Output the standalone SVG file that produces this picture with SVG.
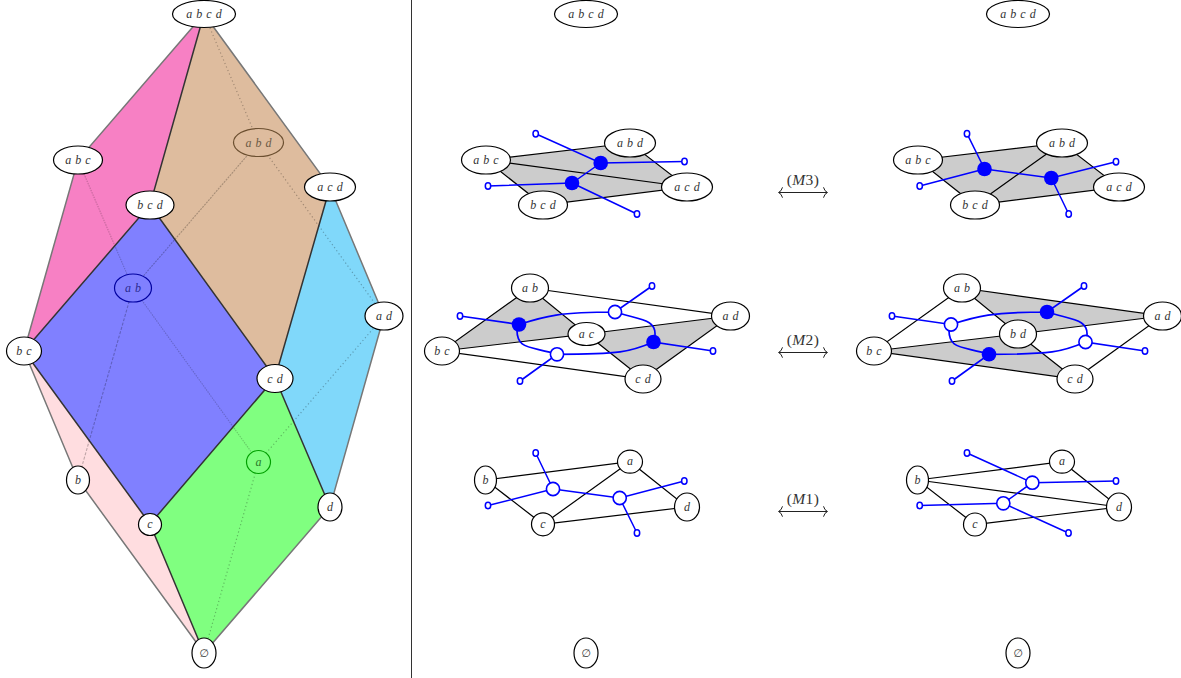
<svg xmlns="http://www.w3.org/2000/svg" width="1181" height="678" viewBox="0 0 1181 678">
<style>
text{font-family:"Liberation Serif","DejaVu Serif",serif;font-style:italic;font-size:12px;word-spacing:1px;text-anchor:middle;fill:#333}
.em{font-family:"DejaVu Sans","Liberation Serif",sans-serif;font-style:normal;font-size:11px}
.n{fill:#fff;stroke:#000;stroke-width:1.2}
.e{stroke:#000;stroke-width:1.2;fill:none}
.o{stroke:#777;stroke-width:1.5;fill:none}
.i{stroke:#333;stroke-width:1.5;fill:none}
.dot{stroke:#000;stroke-opacity:.28;stroke-width:1.2;stroke-dasharray:1.2 2.6;fill:none}
.das{stroke:#000;stroke-opacity:.25;stroke-width:1.1;stroke-dasharray:3 1.5;fill:none}
.fin{stroke:#000;stroke-opacity:.2;stroke-width:1.1;stroke-dasharray:1.5 1;fill:none}
.g{fill:#ccc;stroke:none}
.b{stroke:#00f;stroke-width:1.5;fill:none}
.b2{stroke:#00f;stroke-width:1.7;fill:none}
.t{fill:#fff;stroke:#00f;stroke-width:1.5}
.vf{fill:#00f;stroke:none}
.vo{fill:#fff;stroke:#00f;stroke-width:1.6}
.ar{stroke:#222;stroke-width:1;fill:none}
.lab{font-size:15.500px;font-style:normal;word-spacing:0;letter-spacing:.4px}
.lab tspan{font-style:italic}
</style>
<defs>
<marker id="h" viewBox="-6 -6 12 12" markerWidth="12" markerHeight="12" markerUnits="userSpaceOnUse" refX="4" refY="0" orient="auto-start-reverse"><path d="M0.500-5.200Q1.500-1.200 4.500 0Q1.500 1.200 0.500 5.200" fill="none" stroke="#222" stroke-width="1"/></marker>
</defs>

<line x1="411.500" y1="0" x2="411.500" y2="678" stroke="#333" stroke-width="1"/>

<g id="faces">
<polygon points="204,14 78,160 24,351 150,205" fill="#f780c4"/>
<polygon points="204,14 330,187 275,378 150,205" fill="#debc9e"/>
<polygon points="150,205 275,378 150,524 24,351" fill="#8080ff"/>
<polygon points="330,187 384,316 330,507 275,378" fill="#80d8fa"/>
<polygon points="275,378 330,507 204,653 150,524" fill="#80ff80"/>
<polygon points="24,351 150,524 204,653 78,480" fill="#ffdde0"/>
</g>
<g id="connectors-left">
<path class="dot" d="M204 14L258.500 142.500M258.500 142.500L384 316M258.500 462L384 316M258.500 462L204 653"/>
<path class="das" d="M133 288L78 480"/>
<path class="fin" d="M78 160L133 288M133 288L258.500 462"/>
<path class="das" style="stroke-dasharray:2 1" d="M258.500 142.500L133 288"/>
<path class="o" d="M204 14L78 160L24 351L78 480L204 653L330 507L384 316L330 187Z"/>
<path class="i" d="M204 14L150 205L24 351L150 524L275 378L150 205M275 378L330 187M275 378L330 507M150 524L204 653"/>
</g>
<g id="n-abcd"><ellipse class="n" cx="204" cy="14" rx="31.500" ry="13.500"/><text x="204" y="18">a b c d</text></g>
<g id="n-abc"><ellipse class="n" cx="78" cy="160" rx="24.500" ry="14"/><text x="78" y="164">a b c</text></g>
<g id="n-bcd"><ellipse class="n" cx="150" cy="205" rx="24" ry="14"/><text x="150" y="209">b c d</text></g>
<g id="n-abd"><ellipse cx="258.500" cy="142.500" rx="25" ry="14" fill="#debc9e" stroke="#6b4f30" stroke-width="1.200"/><text x="258.500" y="147" style="fill:#6b5a45">a b d</text></g>
<g id="n-acd"><ellipse class="n" cx="330" cy="187" rx="25.500" ry="14"/><text x="330" y="191">a c d</text></g>
<g id="n-ab"><ellipse cx="133" cy="288" rx="18.500" ry="14" fill="#8080ff" stroke="#0000a0" stroke-width="1.200"/><text x="133" y="292" style="fill:#2a2a90">a b</text></g>
<g id="n-ad"><ellipse class="n" cx="384" cy="316" rx="19" ry="14"/><text x="384" y="320">a d</text></g>
<g id="n-bc"><ellipse class="n" cx="24" cy="351" rx="17.500" ry="14"/><text x="24" y="355">b c</text></g>
<g id="n-cd"><ellipse class="n" cx="275" cy="378.500" rx="18" ry="14"/><text x="275" y="382.500">c d</text></g>
<g id="n-a"><ellipse cx="258.500" cy="462" rx="12" ry="11.500" fill="#80ff80" stroke="#00a000" stroke-width="1.200"/><text x="258.500" y="465.500" style="fill:#2a7a2a">a</text></g>
<g id="n-b"><ellipse class="n" cx="78" cy="480" rx="11.500" ry="14"/><text x="78" y="484">b</text></g>
<g id="n-c"><ellipse class="n" cx="150" cy="524.500" rx="11.500" ry="11"/><text x="150" y="528">c</text></g>
<g id="n-d"><ellipse class="n" cx="330" cy="507" rx="12" ry="14"/><text x="330" y="511">d</text></g>
<g id="n-empty"><ellipse class="n" cx="204" cy="653" rx="12" ry="15"/><text class="em" x="204" y="657">∅</text></g>

<g id="n2-abcd"><ellipse class="n" cx="586" cy="14" rx="31.500" ry="13.500"/><text x="586" y="18">a b c d</text></g>
<g id="n2-empty"><ellipse class="n" cx="586" cy="653" rx="12" ry="15"/><text class="em" x="586" y="657">∅</text></g>
<g id="n3-abcd"><ellipse class="n" cx="1018" cy="14" rx="31.500" ry="13.500"/><text x="1018" y="18">a b c d</text></g>
<g id="n3-empty"><ellipse class="n" cx="1018" cy="653" rx="12" ry="15"/><text class="em" x="1018" y="657">∅</text></g>

<!-- M3 left -->
<g id="m3l-connectors">
<polygon class="g" points="486,160 630,143 687,187 543,205"/>
<path class="e" d="M486 160L630 143L687 187L543 205ZM486 160L687 187"/>
<path class="b" d="M535.700 133.700L600.700 163L684.500 161.500M600.700 163L572 183L488 186M572 183L637 214"/>
<ellipse class="t" cx="535.700" cy="133.700" rx="2.700" ry="3.200"/><ellipse class="t" cx="684.500" cy="161.500" rx="2.700" ry="3.200"/><ellipse class="t" cx="488" cy="186" rx="2.700" ry="3.200"/><ellipse class="t" cx="637" cy="214" rx="2.700" ry="3.200"/>
</g>
<g id="m3l-abc"><ellipse class="n" cx="486" cy="160" rx="24.500" ry="14"/><text x="486" y="164">a b c</text></g>
<g id="m3l-abd"><ellipse class="n" cx="630" cy="143" rx="25.500" ry="14"/><text x="630" y="147">a b d</text></g>
<g id="m3l-acd"><ellipse class="n" cx="687" cy="187" rx="25.500" ry="14"/><text x="687" y="191">a c d</text></g>
<g id="m3l-bcd"><ellipse class="n" cx="543" cy="205" rx="24.500" ry="14"/><text x="543" y="209">b c d</text></g>
<g id="m3l-v1"><circle class="vf" cx="600.700" cy="163" r="7.300"/></g>
<g id="m3l-v2"><circle class="vf" cx="572" cy="183" r="7.300"/></g>

<!-- M3 right -->
<g id="m3r-connectors">
<polygon class="g" points="918,160 1062,143 1119,187 975,205"/>
<path class="e" d="M918 160L1062 143L1119 187L975 205ZM1062 143L975 205"/>
<path class="b" d="M967 133.700L984.500 169L919.700 186M984.500 169L1051.300 178L1116 161.700M1051.300 178L1068.700 214"/>
<ellipse class="t" cx="967" cy="133.700" rx="2.700" ry="3.200"/><ellipse class="t" cx="1116" cy="161.700" rx="2.700" ry="3.200"/><ellipse class="t" cx="919.700" cy="186" rx="2.700" ry="3.200"/><ellipse class="t" cx="1068.700" cy="214" rx="2.700" ry="3.200"/>
</g>
<g id="m3r-abc"><ellipse class="n" cx="918" cy="160" rx="24.500" ry="14"/><text x="918" y="164">a b c</text></g>
<g id="m3r-abd"><ellipse class="n" cx="1062" cy="143" rx="25.500" ry="14"/><text x="1062" y="147">a b d</text></g>
<g id="m3r-acd"><ellipse class="n" cx="1119" cy="187" rx="25.500" ry="14"/><text x="1119" y="191">a c d</text></g>
<g id="m3r-bcd"><ellipse class="n" cx="975" cy="205" rx="24.500" ry="14"/><text x="975" y="209">b c d</text></g>
<g id="m3r-v1"><circle class="vf" cx="984.500" cy="169" r="7.300"/></g>
<g id="m3r-v2"><circle class="vf" cx="1051.300" cy="178" r="7.300"/></g>

<!-- M2 left -->
<g id="m2l-connectors">
<polygon class="g" points="530,288 586.500,334 442,351"/>
<polygon class="g" points="586.500,334 730.500,316 643,379"/>
<path class="e" d="M530 288L730.500 316L643 379L442 351L530 288L586.500 334L442 351M586.500 334L730.500 316M586.500 334L643 379"/>
<path class="b2" d="M460 316L519 324.500C545 316 560 312 615 312L652 286M615 312C640 320 656 319 655 335L653.500 342L713 351M653.500 342C630 352 620 354.300 557 354.300L520 381M557 354.300C530 346 516 350 517 328"/>
<ellipse class="t" cx="460" cy="316" rx="2.700" ry="3.200"/><ellipse class="t" cx="652" cy="286" rx="2.700" ry="3.200"/><ellipse class="t" cx="713" cy="351" rx="2.700" ry="3.200"/><ellipse class="t" cx="520" cy="381" rx="2.700" ry="3.200"/>
</g>
<g id="m2l-ab"><ellipse class="n" cx="530" cy="288" rx="18.500" ry="14"/><text x="530" y="292">a b</text></g>
<g id="m2l-ad"><ellipse class="n" cx="730.500" cy="316" rx="19" ry="14"/><text x="730.500" y="320">a d</text></g>
<g id="m2l-bc"><ellipse class="n" cx="442" cy="351" rx="17.500" ry="14"/><text x="442" y="355">b c</text></g>
<g id="m2l-ac"><ellipse class="n" cx="586.500" cy="334" rx="18.500" ry="11.500"/><text x="586.500" y="338">a c</text></g>
<g id="m2l-cd"><ellipse class="n" cx="643" cy="379" rx="18" ry="14"/><text x="643" y="383">c d</text></g>
<g id="m2l-v1"><circle class="vf" cx="519" cy="324.500" r="7.300"/></g>
<g id="m2l-v2"><circle class="vo" cx="615" cy="312" r="6.600"/></g>
<g id="m2l-v3"><circle class="vf" cx="653.500" cy="342" r="7.300"/></g>
<g id="m2l-v4"><circle class="vo" cx="557" cy="354.300" r="6.600"/></g>

<!-- M2 right -->
<g id="m2r-connectors">
<polygon class="g" points="962,288 1162.500,316 1018,334"/>
<polygon class="g" points="874,351 1018,334 1075,379"/>
<path class="e" d="M962 288L1162.500 316L1075 379L874 351L962 288L1018 334L874 351M1018 334L1162.500 316M1018 334L1075 379"/>
<path class="b2" d="M892 316L951 324.500C977 316 992 312 1047 312L1084 286M1047 312C1072 320 1088 319 1087 335L1085.500 342L1145 351M1085.500 342C1062 352 1052 354.300 989 354.300L952 381M989 354.300C962 346 948 350 949 328"/>
<ellipse class="t" cx="892" cy="316" rx="2.700" ry="3.200"/><ellipse class="t" cx="1084" cy="286" rx="2.700" ry="3.200"/><ellipse class="t" cx="1145" cy="351" rx="2.700" ry="3.200"/><ellipse class="t" cx="952" cy="381" rx="2.700" ry="3.200"/>
</g>
<g id="m2r-ab"><ellipse class="n" cx="962" cy="288" rx="18.500" ry="14"/><text x="962" y="292">a b</text></g>
<g id="m2r-ad"><ellipse class="n" cx="1162.500" cy="316" rx="19" ry="14"/><text x="1162.500" y="320">a d</text></g>
<g id="m2r-bc"><ellipse class="n" cx="874" cy="351" rx="17.500" ry="14"/><text x="874" y="355">b c</text></g>
<g id="m2r-bd"><ellipse class="n" cx="1018" cy="334" rx="18.500" ry="14"/><text x="1018" y="338">b d</text></g>
<g id="m2r-cd"><ellipse class="n" cx="1075" cy="379" rx="18" ry="14"/><text x="1075" y="383">c d</text></g>
<g id="m2r-v1"><circle class="vo" cx="951" cy="324.500" r="6.600"/></g>
<g id="m2r-v2"><circle class="vf" cx="1047" cy="312" r="7.300"/></g>
<g id="m2r-v3"><circle class="vo" cx="1085.500" cy="342" r="6.600"/></g>
<g id="m2r-v4"><circle class="vf" cx="989" cy="354.300" r="7.300"/></g>

<!-- M1 left -->
<g id="m1l-connectors">
<path class="e" d="M485.500 480L630 461.700L687 507L543 524.300ZM630 461.700L543 524.300"/>
<path class="b" d="M535.700 453L553 489L488 505.500M553 489L619.700 498L684.300 481M619.700 498L637 533"/>
<ellipse class="t" cx="535.700" cy="453" rx="2.700" ry="3.200"/><ellipse class="t" cx="488" cy="505.500" rx="2.700" ry="3.200"/><ellipse class="t" cx="684.300" cy="481" rx="2.700" ry="3.200"/><ellipse class="t" cx="637" cy="533" rx="2.700" ry="3.200"/>
</g>
<g id="m1l-b"><ellipse class="n" cx="485.500" cy="480" rx="11" ry="14"/><text x="485.500" y="484">b</text></g>
<g id="m1l-a"><ellipse class="n" cx="630" cy="461.700" rx="12.500" ry="11.500"/><text x="630" y="465">a</text></g>
<g id="m1l-d"><ellipse class="n" cx="687" cy="507" rx="12.500" ry="14"/><text x="687" y="511">d</text></g>
<g id="m1l-c"><ellipse class="n" cx="543" cy="524.300" rx="11.500" ry="11.500"/><text x="543" y="528">c</text></g>
<g id="m1l-v1"><circle class="vo" cx="553" cy="489" r="6.600"/></g>
<g id="m1l-v2"><circle class="vo" cx="619.700" cy="498" r="6.600"/></g>

<!-- M1 right -->
<g id="m1r-connectors">
<path class="e" d="M917.500 480L1062 461.700L1119 507L975 524.500ZM917.500 480L1119 507"/>
<path class="b" d="M967 453L1032.300 482.700L1116 481M1032.300 482.700L1003.300 503.300L919.700 505.500M1003.300 503.300L1068.500 533"/>
<ellipse class="t" cx="967" cy="453" rx="2.700" ry="3.200"/><ellipse class="t" cx="1116" cy="481" rx="2.700" ry="3.200"/><ellipse class="t" cx="919.700" cy="505.500" rx="2.700" ry="3.200"/><ellipse class="t" cx="1068.500" cy="533" rx="2.700" ry="3.200"/>
</g>
<g id="m1r-b"><ellipse class="n" cx="917.500" cy="480" rx="11" ry="14"/><text x="917.500" y="484">b</text></g>
<g id="m1r-a"><ellipse class="n" cx="1062" cy="461.700" rx="12.500" ry="11.500"/><text x="1062" y="465">a</text></g>
<g id="m1r-d"><ellipse class="n" cx="1119" cy="507" rx="12.500" ry="14"/><text x="1119" y="511">d</text></g>
<g id="m1r-c"><ellipse class="n" cx="975" cy="524.500" rx="11.500" ry="11.500"/><text x="975" y="528">c</text></g>
<g id="m1r-v1"><circle class="vo" cx="1032.300" cy="482.700" r="6.600"/></g>
<g id="m1r-v2"><circle class="vo" cx="1003.300" cy="503.300" r="6.600"/></g>

<g id="moves">
<line class="ar" x1="779" y1="192.500" x2="827" y2="192.500" marker-start="url(#h)" marker-end="url(#h)"/>
<text class="lab" x="803" y="184.500">(<tspan>M</tspan>3)</text>
<line class="ar" x1="779" y1="352.500" x2="827" y2="352.500" marker-start="url(#h)" marker-end="url(#h)"/>
<text class="lab" x="803" y="344.500">(<tspan>M</tspan>2)</text>
<line class="ar" x1="779" y1="511.500" x2="827" y2="511.500" marker-start="url(#h)" marker-end="url(#h)"/>
<text class="lab" x="803" y="503.500">(<tspan>M</tspan>1)</text>
</g>
</svg>
